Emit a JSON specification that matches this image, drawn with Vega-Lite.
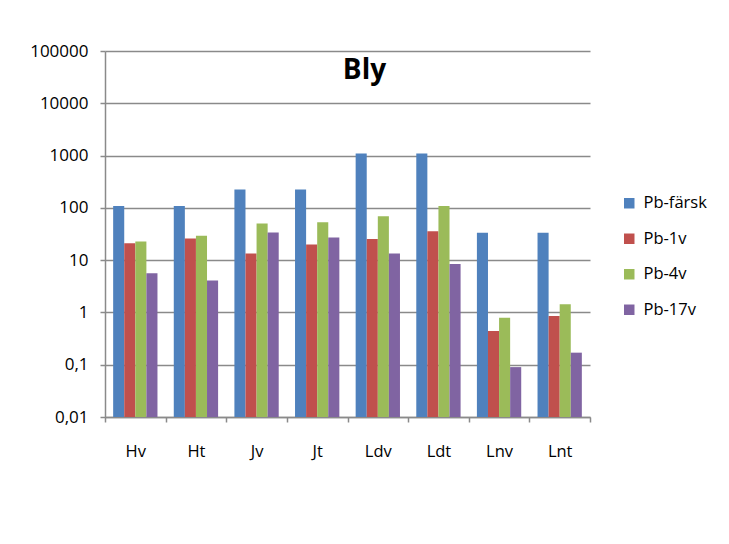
{
  "$schema": "https://vega.github.io/schema/vega-lite/v6.json",
  "width": 485,
  "height": 366,
  "autosize": {"type": "none"},
  "padding": {"left": 105, "top": 51, "right": 139, "bottom": 127},
  "background": "white",
  "title": {
    "text": "Bly",
    "font": "Open Sans",
    "fontSize": 28,
    "fontWeight": "bold",
    "color": "black",
    "anchor": "middle",
    "dx": 17,
    "offset": -65,
    "baseline": "alphabetic"
  },
  "data": {
    "values": [
      {"site": "Hv", "series": "Pb-färsk", "value": 109},
      {"site": "Hv", "series": "Pb-1v", "value": 21},
      {"site": "Hv", "series": "Pb-4v", "value": 22.8},
      {"site": "Hv", "series": "Pb-17v", "value": 5.6},
      {"site": "Ht", "series": "Pb-färsk", "value": 109},
      {"site": "Ht", "series": "Pb-1v", "value": 26},
      {"site": "Ht", "series": "Pb-4v", "value": 29.2},
      {"site": "Ht", "series": "Pb-17v", "value": 4.1},
      {"site": "Jv", "series": "Pb-färsk", "value": 225},
      {"site": "Jv", "series": "Pb-1v", "value": 13.4},
      {"site": "Jv", "series": "Pb-4v", "value": 50},
      {"site": "Jv", "series": "Pb-17v", "value": 33.9},
      {"site": "Jt", "series": "Pb-färsk", "value": 225},
      {"site": "Jt", "series": "Pb-1v", "value": 20},
      {"site": "Jt", "series": "Pb-4v", "value": 53},
      {"site": "Jt", "series": "Pb-17v", "value": 27},
      {"site": "Ldv", "series": "Pb-färsk", "value": 1092},
      {"site": "Ldv", "series": "Pb-1v", "value": 25.5},
      {"site": "Ldv", "series": "Pb-4v", "value": 69},
      {"site": "Ldv", "series": "Pb-17v", "value": 13.4},
      {"site": "Ldt", "series": "Pb-färsk", "value": 1092},
      {"site": "Ldt", "series": "Pb-1v", "value": 35.8},
      {"site": "Ldt", "series": "Pb-4v", "value": 109},
      {"site": "Ldt", "series": "Pb-17v", "value": 8.4},
      {"site": "Lnv", "series": "Pb-färsk", "value": 33.3},
      {"site": "Lnv", "series": "Pb-1v", "value": 0.44},
      {"site": "Lnv", "series": "Pb-4v", "value": 0.79},
      {"site": "Lnv", "series": "Pb-17v", "value": 0.09},
      {"site": "Lnt", "series": "Pb-färsk", "value": 33.3},
      {"site": "Lnt", "series": "Pb-1v", "value": 0.85},
      {"site": "Lnt", "series": "Pb-4v", "value": 1.44},
      {"site": "Lnt", "series": "Pb-17v", "value": 0.17}
    ]
  },
  "mark": {"type": "bar"},
  "encoding": {
    "x": {
      "field": "site",
      "type": "nominal",
      "sort": null,
      "title": null,
      "scale": {"paddingInner": 0, "paddingOuter": 0},
      "axis": {
        "labelAngle": 0,
        "tickBand": "extent",
        "tickSize": 5,
        "labelPadding": 21,
        "labelFont": "Open Sans",
        "labelFontSize": 16.5,
        "labelColor": "black",
        "domainColor": "#8a8a8a",
        "domainWidth": 1.5,
        "tickColor": "#8a8a8a",
        "tickWidth": 1.5,
        "grid": false
      }
    },
    "xOffset": {
      "field": "series",
      "type": "nominal",
      "sort": ["Pb-färsk", "Pb-1v", "Pb-4v", "Pb-17v"],
      "scale": {"paddingInner": 0, "paddingOuter": 0.736}
    },
    "y": {
      "field": "value",
      "type": "quantitative",
      "title": null,
      "scale": {"type": "log", "domain": [0.01, 100000], "nice": false},
      "axis": {
        "values": [0.01, 0.1, 1, 10, 100, 1000, 10000, 100000],
        "labelExpr": "replace(format(datum.value, '~f'), '.', ',')",
        "tickSize": 5,
        "labelPadding": 12,
        "labelFont": "Open Sans",
        "labelFontSize": 17,
        "labelColor": "black",
        "domainColor": "#8a8a8a",
        "domainWidth": 1.5,
        "tickColor": "#8a8a8a",
        "tickWidth": 1.5,
        "gridColor": "#8a8a8a",
        "gridWidth": 1.5
      }
    },
    "y2": {"datum": 0.01},
    "color": {
      "field": "series",
      "type": "nominal",
      "sort": ["Pb-färsk", "Pb-1v", "Pb-4v", "Pb-17v"],
      "scale": {
        "domain": ["Pb-färsk", "Pb-1v", "Pb-4v", "Pb-17v"],
        "range": ["#4F81BD", "#C0504D", "#9BBB59", "#8064A2"]
      },
      "legend": {
        "title": null,
        "orient": "none",
        "legendX": 516,
        "legendY": 144,
        "symbolType": "square",
        "symbolSize": 110,
        "symbolStrokeWidth": 0,
        "labelFont": "Open Sans",
        "labelFontSize": 16.5,
        "labelColor": "black",
        "labelOffset": 6,
        "rowPadding": 18.5
      }
    }
  },
  "config": {
    "view": {"stroke": null}
  }
}
